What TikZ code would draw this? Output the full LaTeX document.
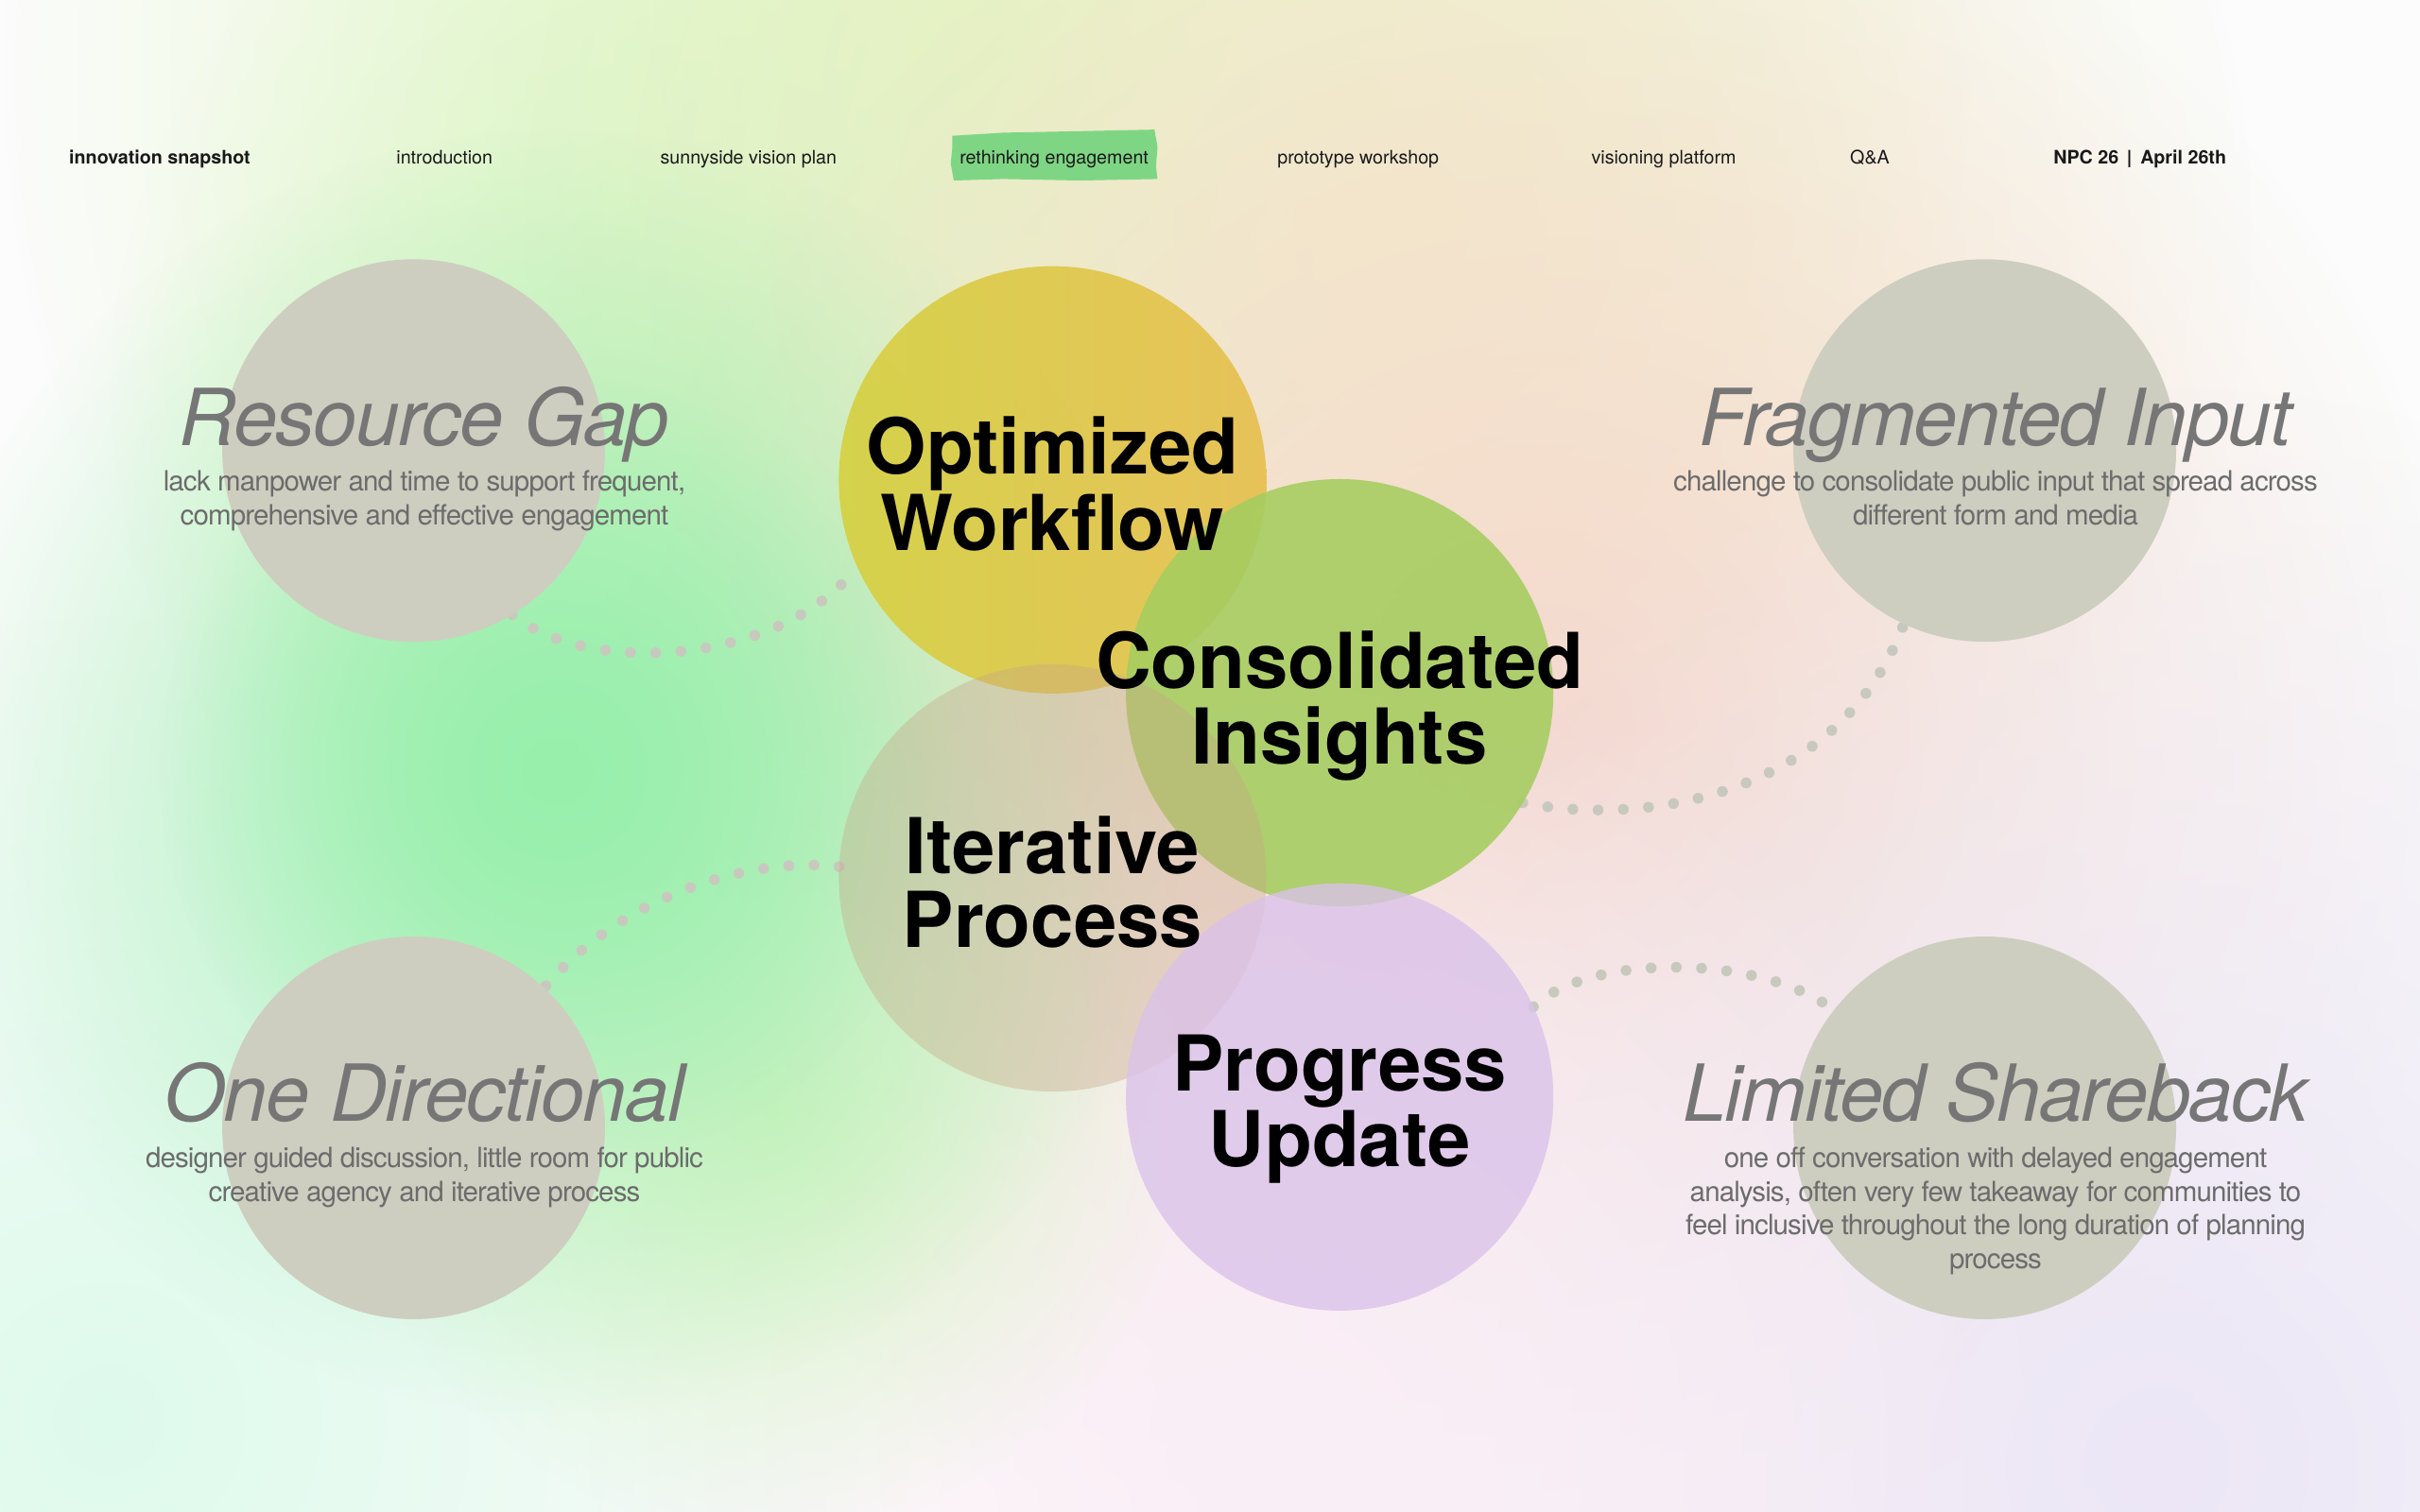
\documentclass[tikz,border=0pt]{standalone}
\usepackage{fontspec}
\setmainfont{TeX Gyre Heros}
\usetikzlibrary{fadings}
\tikzfading[name=softblob, inner color=transparent!0, outer color=transparent!100]
\definecolor{bgbase}{RGB}{251,252,251}
\definecolor{navcol}{RGB}{25,25,25}
\definecolor{greycirc}{RGB}{205,206,192}
\definecolor{greytitle}{RGB}{118,118,118}
\definecolor{greydesc}{RGB}{108,108,108}
\definecolor{dotcol}{RGB}{200,201,190}
\definecolor{hlgreen}{RGB}{126,214,132}
\definecolor{yelL}{RGB}{214,208,66}
\definecolor{yelR}{RGB}{230,192,80}
\definecolor{grn}{RGB}{165,205,95}
\definecolor{tanc}{RGB}{200,165,135}
\definecolor{pur}{RGB}{218,194,234}
\definecolor{mint}{RGB}{160,238,178}
\definecolor{mintcore}{RGB}{152,240,172}
\definecolor{topyg}{RGB}{222,246,185}
\definecolor{cream}{RGB}{242,238,205}
\definecolor{peach}{RGB}{246,216,204}
\definecolor{lav}{RGB}{236,230,246}
\definecolor{pinkb}{RGB}{251,238,247}
\definecolor{mintbl}{RGB}{222,250,236}
\definecolor{lgreen}{RGB}{215,245,195}
\pgfdeclarelayer{bglayer}
\pgfdeclarelayer{linelayer}
\pgfsetlayers{bglayer,linelayer,main}
\tikzset{
  navtxt/.style={font=\fontsize{5.6}{6.7}\selectfont, text=navcol, inner sep=0pt, anchor=base},
  navbold/.style={font=\fontsize{5.6}{6.7}\selectfont\bfseries, text=navcol, inner sep=0pt, anchor=base},
  greycircle/.style={circle, fill=greycirc, minimum size=4.049cm, inner sep=0pt, outer sep=0pt},
  bigcircle/.style={circle, minimum size=4.522cm, inner sep=0pt, outer sep=0pt},
  bigtitle/.style={font=\fontsize{23.2}{22.8}\selectfont\bfseries, text=black, inner sep=0pt, anchor=base},
  greyhead/.style={font=\fontsize{23.7}{26}\selectfont\itshape\addfontfeature{LetterSpace=-2}, text=greytitle, inner sep=0pt, anchor=base},
  desc/.style={font=\fontsize{8.4}{10.2}\selectfont\addfontfeature{LetterSpace=-3}, text=greydesc, inner sep=0pt, anchor=base},
  dotline/.style={draw=dotcol, line width=0.115cm, line cap=round, dash pattern=on 0pt off 0.267cm},
  blob/.style={fill=#1, path fading=softblob}
}
\begin{document}
\begin{tikzpicture}[x=0.0163265cm, y=-0.0163265cm]
\path[use as bounding box] (0,0) rectangle (1568,980);
% ---------- background ----------
\begin{pgfonlayer}{bglayer}
\begin{scope}
\clip (0,0) rectangle (1568,980);
\fill[bgbase] (0,0) rectangle (1568,980);
\fill[blob=topyg] (640,50) circle[radius=10.4cm];
\fill[blob=lgreen] (470,250) circle[radius=6.5cm];
\fill[blob=cream] (900,150) circle[radius=9.143cm];
\fill[blob=peach] (1000,480) circle[radius=9.796cm];
\fill[blob=lav] (1400,950) circle[radius=11.429cm];
\fill[blob=pinkb] (830,940) circle[radius=8.5cm];
\fill[blob=mintbl] (70,920) circle[radius=8.5cm];
\fill[blob=lgreen] (500,720) circle[radius=4.5cm];
\fill[blob=mint] (360,500) circle[radius=6.8cm];
\fill[blob=mintcore] (360,500) circle[radius=4.2cm];
\end{scope}
\end{pgfonlayer}
% ---------- navigation ----------
\fill[hlgreen] (617,88) -- (650,86) -- (700,85) -- (748,84) -- (750,95) -- (749,108) -- (750,116) -- (700,117) -- (650,116) -- (618,117) -- (616,106) -- (617,96) -- cycle;
\node[navbold] (nav1) at (103.5,106) {innovation snapshot};
\node[navtxt] (nav2) at (288,106) {introduction};
\node[navtxt] (nav3) at (485,106) {sunnyside vision plan};
\node[navtxt] (nav4) at (683,106) {rethinking engagement};
\node[navtxt] (nav5) at (880,106) {prototype workshop};
\node[navtxt] (nav6) at (1078,106) {visioning platform};
\node[navtxt] (nav7) at (1211.5,106) {Q\&A};
\node[navbold] (nav8) at (1386.5,106) {NPC 26 \,|\, April 26th};
% ---------- grey problem circles ----------
\node[greycircle] (rg) at (268,292) {};
\node[greycircle] (fi) at (1286,292) {};
\node[greycircle] (od) at (268,731) {};
\node[greycircle] (ls) at (1286,731) {};
% ---------- central circles ----------
\node[bigcircle, left color=yelL, right color=yelR, fill opacity=0.92] (ow) at (682,311) {};
\node[bigcircle, fill=grn, fill opacity=0.88] (ci) at (868,449) {};
\node[bigcircle, fill=tanc, fill opacity=0.38] (ip) at (682,569) {};
\node[bigcircle, fill=pur, fill opacity=0.78] (pu) at (868,711) {};
% ---------- connectors ----------
\begin{pgfonlayer}{linelayer}
\draw[dotline] (rg.-59) .. controls (380,438) and (505,432) .. (ow.204);
\draw[dotline] (ip.177) .. controls (490,555) and (405,578) .. (od.47);
\draw[dotline] (ci.-31) .. controls (1060,535) and (1190,520) .. (fi.-115);
\draw[dotline] (pu.25) .. controls (1030,618) and (1140,618) .. (ls.142);
\end{pgfonlayer}
% ---------- central titles ----------
\node[bigtitle] (owa) at (682,307) {Optimized};
\node[bigtitle] (owb) at (682,357) {Workflow};
\node[bigtitle] (cia) at (868,446) {Consolidated};
\node[bigtitle] (cib) at (868,495) {Insights};
\node[bigtitle] (ipa) at (682,566) {Iterative};
\node[bigtitle] (ipb) at (682,614) {Process};
\node[bigtitle] (pua) at (868,707) {Progress};
\node[bigtitle] (pub) at (868,756) {Update};
% ---------- grey titles and descriptions ----------
\node[greyhead] (rgt) at (275,289) {Resource Gap};
\node[desc] (rgd1) at (275,318) {lack manpower and time to support frequent,};
\node[desc] (rgd2) at (275,340) {comprehensive and effective engagement};
\node[greyhead] (fit) at (1293,289) {Fragmented Input};
\node[desc] (fid1) at (1293,318) {challenge to consolidate public input that spread across};
\node[desc] (fid2) at (1293,340) {different form and media};
\node[greyhead] (odt) at (275,727) {One Directional};
\node[desc] (odd1) at (275,757) {designer guided discussion, little room for public};
\node[desc] (odd2) at (275,779) {creative agency and iterative process};
\node[greyhead] (lst) at (1293,727) {Limited Shareback};
\node[desc] (lsd1) at (1293,757) {one off conversation with delayed engagement};
\node[desc] (lsd2) at (1293,779) {analysis, often very few takeaway for communities to};
\node[desc] (lsd3) at (1293,800) {feel inclusive throughout the long duration of planning};
\node[desc] (lsd4) at (1293,822) {process};
\end{tikzpicture}
\end{document}
